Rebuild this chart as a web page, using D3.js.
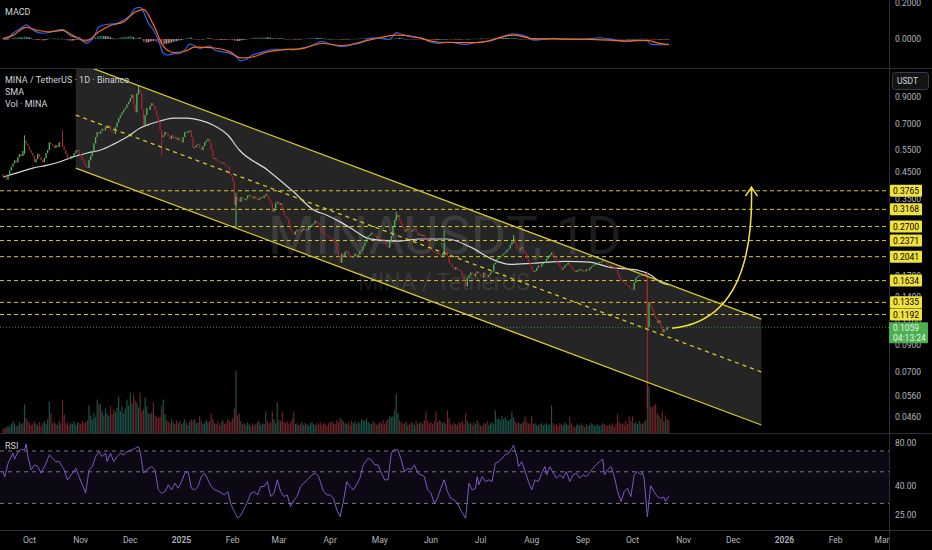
<!DOCTYPE html>
<html>
<head>
<meta charset="utf-8">
<script src="https://cdn.jsdelivr.net/npm/d3@7"></script>
<style>
html, body { margin: 0; padding: 0; background: #000; overflow: hidden; }
svg { display: block; }
text { font-family: Roboto, "Liberation Sans", sans-serif; }
</style>
</head>
<body>
<svg id="chart" width="932" height="550"></svg>
<script>
// ---- data (MINA/USDT daily, Binance) ----
var startDate = "2024-09-15"

var closes = [
  0.43,0.425,0.418,0.435,0.455,0.47,0.485,0.50,0.49,0.515,
  0.53,0.52,0.545,0.60,0.585,0.57,0.55,0.535,0.52,0.49,
  0.505,0.53,0.515,0.50,0.49,0.51,0.535,0.55,0.59,0.58,
  0.57,0.56,0.575,0.565,0.59,0.585,0.57,0.55,0.53,0.51,
  0.505,0.52,0.52,0.535,0.545,0.55,0.53,0.515,0.50,0.485,
  0.47,0.465,0.50,0.52,0.54,0.585,0.62,0.65,0.64,0.655,
  0.67,0.66,0.68,0.69,0.69,0.66,0.645,0.64,0.68,0.71,
  0.74,0.76,0.78,0.80,0.815,0.84,0.86,0.89,0.92,0.84,
  0.78,0.93,0.96,0.94,0.80,0.69,0.76,0.81,0.80,0.83,
  0.85,0.83,0.79,0.75,0.71,0.66,0.62,0.63,0.65,0.64,
  0.625,0.61,0.63,0.615,0.62,0.605,0.615,0.60,0.59,0.62,
  0.65,0.645,0.655,0.66,0.62,0.56,0.565,0.575,0.58,0.56,
  0.55,0.57,0.59,0.60,0.61,0.585,0.55,0.51,0.51,0.50,
  0.495,0.49,0.485,0.49,0.48,0.475,0.47,0.44,0.43,0.41,
  0.33,0.355,0.35,0.34,0.355,0.35,0.345,0.35,0.36,0.362,
  0.355,0.35,0.358,0.352,0.345,0.35,0.355,0.352,0.36,0.365,
  0.355,0.345,0.335,0.31,0.32,0.335,0.34,0.33,0.335,0.32,
  0.30,0.295,0.29,0.275,0.26,0.255,0.25,0.258,0.262,0.26,
  0.258,0.262,0.265,0.26,0.262,0.268,0.27,0.275,0.278,0.285,
  0.28,0.27,0.262,0.258,0.252,0.25,0.247,0.245,0.242,0.24,
  0.235,0.232,0.215,0.205,0.193,0.21,0.205,0.213,0.215,0.208,
  0.205,0.202,0.205,0.21,0.203,0.208,0.215,0.218,0.225,0.233,
  0.24,0.247,0.25,0.255,0.252,0.248,0.244,0.246,0.242,0.24,
  0.237,0.232,0.226,0.222,0.235,0.247,0.27,0.287,0.295,0.30,
  0.285,0.275,0.268,0.258,0.262,0.265,0.26,0.258,0.262,0.265,
  0.256,0.25,0.252,0.247,0.25,0.245,0.24,0.233,0.225,0.218,
  0.215,0.212,0.21,0.212,0.208,0.206,0.21,0.215,0.213,0.205,
  0.193,0.19,0.185,0.181,0.185,0.182,0.18,0.178,0.17,0.162,
  0.155,0.167,0.172,0.176,0.174,0.17,0.175,0.178,0.174,0.17,
  0.168,0.176,0.172,0.169,0.172,0.176,0.178,0.19,0.193,0.20,
  0.202,0.205,0.207,0.21,0.213,0.218,0.22,0.228,0.234,0.242,
  0.23,0.218,0.216,0.22,0.223,0.215,0.21,0.20,0.195,0.188,
  0.181,0.177,0.179,0.184,0.188,0.186,0.19,0.193,0.195,0.20,
  0.205,0.208,0.212,0.205,0.20,0.195,0.19,0.186,0.181,0.184,
  0.188,0.19,0.193,0.189,0.186,0.18,0.177,0.179,0.18,0.182,
  0.179,0.18,0.178,0.181,0.18,0.183,0.186,0.188,0.19,0.191,
  0.193,0.194,0.195,0.198,0.196,0.192,0.189,0.186,0.188,0.185,
  0.184,0.181,0.174,0.167,0.164,0.161,0.16,0.157,0.156,0.153,
  0.151,0.15,0.16,0.168,0.17,0.172,0.171,0.174,0.172,0.174,
  0.106,0.134,0.129,0.124,0.118,0.115,0.11,0.113,0.107,0.101,
  0.104,0.103,0.106,0.1059
]
var firstOpen = 0.44

var volumes = [
  4,5,6,7,6,9,12,10,7,8,11,9,10,29,15,12,10,8,9,12,
  9,8,11,7,10,12,9,14,32,20,10,11,9,8,12,10,34,19,9,11,
  8,10,9,12,8,11,10,9,12,10,11,13,28,18,14,20,16,34,30,29,
  22,18,25,20,17,27,19,24,21,26,37,22,27,20,25,34,28,41,30,39,
  33,31,26,41,22,24,36,27,20,19,21,31,18,16,15,17,27,34,19,13,
  12,10,14,11,9,13,10,12,9,11,14,10,8,12,14,13,14,10,11,17,
  12,9,10,13,11,12,20,14,10,9,12,8,11,13,9,10,14,12,11,15,
  25,63,18,20,12,9,10,8,11,9,7,10,8,9,11,12,8,10,9,22,
  12,10,11,22,14,10,31,13,12,22,11,10,12,9,11,14,22,9,10,8,
  9,11,8,10,9,7,10,11,9,8,10,9,11,8,10,9,7,10,11,12,
  10,9,13,11,15,14,12,10,9,11,8,13,10,12,9,11,10,14,13,12,
  15,11,10,9,12,10,8,9,11,10,13,9,12,14,17,16,17,23,40,20,
  13,11,9,10,12,8,9,11,10,8,12,9,10,11,9,13,22,12,10,11,
  9,12,22,11,13,12,10,11,9,23,15,9,8,10,9,8,11,10,12,9,
  20,12,9,10,8,11,9,13,10,8,7,10,9,12,8,10,11,9,23,14,
  15,13,17,14,16,13,12,14,22,16,12,10,11,9,10,12,17,11,10,9,
  17,9,10,8,7,9,10,8,9,10,8,9,28,10,8,9,7,10,9,8,
  11,9,8,17,10,7,6,8,9,7,10,8,6,9,7,8,10,9,7,8,
  9,7,8,10,9,8,7,9,8,10,6,9,19,11,9,10,8,12,9,17,
  12,17,10,11,9,12,10,9,11,13,55,48,27,26,28,29,20,18,15,22,
  12,18,14,13
]

// notable wicks: [day index, high, low]
var wicks = [
  [13, 0.63, 0.53], [36, 0.66, 0.565], [82, 1.0, 0.92], [96, 0.66, 0.52],
  [141, 0.37, 0.265], [238, 0.31, 0.285], [267, 0.26, 0.205], [309, 0.25, 0.232],
  [390, 0.178, 0.05]
]

// SMA line: [day index, value]
var smaPoints = [
  [0,0.428],[2,0.432],[10,0.448],[18,0.465],[27,0.478],[34,0.492],[42,0.515],[51,0.535],
  [59,0.55],[67,0.581],[75,0.62],[83,0.675],[89,0.70],[95,0.72],[103,0.74],[111,0.74],
  [119,0.726],[127,0.694],[136,0.632],[143,0.55],[160,0.457],[176,0.372],[188,0.315],
  [196,0.30],[204,0.282],[212,0.262],[220,0.243],[228,0.238],[240,0.236],[252,0.2405],
  [269,0.2405],[283,0.223],[297,0.198],[307,0.19],[321,0.192],[341,0.1955],[355,0.194],
  [367,0.185],[384,0.18],[392,0.172],[398,0.161],[403,0.157]
]

// MACD and signal lines: [day index, value]
var macdPoints = [
  [0,0.004],[2,-0.002],[6,0.032],[10,0.054],[14,0.078],[17,0.059],[20,0.041],[24,0.032],
  [28,0.037],[32,0.046],[36,0.054],[39,0.032],[42,0.013],[46,0.009],[50,-0.024],[55,0.013],
  [58,0.068],[61,0.078],[65,0.083],[69,0.087],[73,0.106],[77,0.133],[80,0.17],[83,0.176],
  [85,0.152],[88,0.087],[91,0.05],[94,-0.006],[97,-0.08],[99,-0.089],[103,-0.083],[107,-0.080],
  [110,-0.061],[113,-0.028],[116,-0.039],[119,-0.052],[122,-0.046],[125,-0.039],[128,-0.061],
  [132,-0.070],[137,-0.080],[141,-0.098],[144,-0.122],[147,-0.113],[151,-0.089],[156,-0.076],
  [160,-0.065],[164,-0.057],[168,-0.057],[172,-0.057],[176,-0.061],[180,-0.052],[186,-0.039],
  [193,-0.015],[198,-0.028],[205,-0.043],[212,-0.030],[217,-0.020],[222,0.004],[228,0.006],
  [234,-0.002],[238,0.035],[241,0.028],[246,0.013],[254,0.004],[258,-0.015],[264,-0.024],
  [270,-0.018],[280,-0.030],[287,-0.018],[295,-0.011],[301,0.009],[309,0.028],[317,0.013],
  [321,-0.006],[327,-0.002],[333,0.004],[341,-0.002],[351,-0.002],[361,0.007],[369,-0.002],
  [377,-0.015],[385,-0.006],[390,-0.011],[392,-0.028],[398,-0.032],[403,-0.032]
]
var signalPoints = [
  [0,0.002],[6,0.02],[14,0.065],[20,0.05],[28,0.04],[36,0.048],[42,0.02],[50,-0.012],
  [58,0.04],[65,0.075],[73,0.095],[80,0.15],[85,0.165],[91,0.08],[97,-0.04],[103,-0.075],
  [110,-0.068],[116,-0.045],[122,-0.046],[128,-0.05],[137,-0.07],[144,-0.105],[151,-0.1],
  [160,-0.072],[172,-0.058],[180,-0.055],[193,-0.025],[205,-0.036],[222,-0.005],[238,0.022],
  [246,0.018],[264,-0.018],[287,-0.02],[309,0.022],[321,0.002],[351,-0.001],[377,-0.01],
  [390,-0.008],[398,-0.026],[403,-0.03]
]

// RSI line: [day index, value]
var rsiPoints = [
  [0,50],[1,45.9],[3,57.4],[6,67.5],[7,61.3],[9,69.2],[11,72],[13,71.2],[14,78.3],[15,63.9],
  [17,51.6],[19,55.9],[21,54.4],[23,48.9],[26,57.4],[28,65.7],[30,62.3],[32,58.9],[34,58.9],
  [37,51.6],[39,43.9],[42,48.9],[44,53],[46,46.3],[50,35.4],[52,51.6],[54,54.4],[56,63.9],
  [58,69.2],[60,63.9],[62,67.5],[63,58.9],[65,67.5],[67,58.9],[69,63.9],[71,67.5],[73,65.7],
  [75,69.2],[78,71.2],[80,73.1],[82,75],[83,69.2],[85,48.9],[87,51.6],[90,54.4],[92,51.6],
  [94,37.3],[96,35.4],[98,36.3],[100,40.5],[102,37.3],[104,41.6],[106,38.3],[108,42.7],
  [110,48.9],[112,50.2],[114,38.3],[116,37.3],[118,39.4],[120,46.3],[122,48.9],[124,43.9],
  [126,39.4],[128,37.3],[131,36.3],[134,34.4],[136,36.3],[138,29.3],[140,26.3],[142,23.6],
  [144,24.9],[146,27.7],[148,30.9],[150,35.4],[152,36.3],[154,34.4],[156,39.4],[158,39.4],
  [160,42.7],[162,33.5],[164,35.4],[166,43.9],[168,36.3],[170,33.5],[172,34.4],[174,28.5],
  [176,31.7],[178,33.5],[180,39.4],[182,41.6],[184,43.9],[187,47.6],[189,48.9],[191,46.3],
  [194,36.3],[196,34.4],[198,34.4],[200,32.6],[202,27],[204,24.2],[206,30.9],[208,42.7],
  [210,39.4],[212,37.3],[214,40.5],[216,45.1],[218,55.9],[221,62.3],[223,60.6],[225,55.9],
  [227,55.9],[229,48.9],[231,43.9],[233,43.9],[235,67.5],[237,72],[239,71.2],[241,60.6],
  [243,50.2],[245,53],[247,51.6],[249,55.9],[251,48.9],[253,47.6],[255,46.3],[257,37.3],
  [259,35.4],[261,30.1],[263,32.6],[265,38.3],[267,43.9],[269,36.3],[271,32.6],[273,31.7],
  [275,30.1],[277,27],[280,23.6],[282,41.6],[284,37.3],[286,38.3],[287,46.3],[288,40.5],
  [290,46.3],[292,42.7],[294,43.9],[296,42.7],[298,57.4],[300,58.9],[302,62.3],[304,65.7],
  [306,67.5],[308,73.1],[309,77.1],[311,63.9],[312,54.4],[314,58.9],[316,50.2],[318,42.7],
  [320,37.3],[322,43.9],[324,42.7],[326,48.9],[328,54.4],[329,47.6],[331,54.4],[333,48.9],
  [335,45.1],[337,47.6],[339,45.1],[341,50.2],[343,42.7],[345,47.6],[347,48.9],[349,45.1],
  [351,47.6],[353,46.3],[355,48.9],[357,53],[359,55.9],[361,58.9],[363,61.3],[364,47.6],
  [366,51.6],[368,54.4],[370,46.3],[372,36.3],[374,30.9],[376,36.3],[378,38.3],[380,33.5],
  [382,47.6],[384,50.2],[386,47.6],[387,49.5],[388,45.1],[390,24.2],[392,40],[394,36.3],
  [396,33.5],[398,32.6],[400,33.2],[401,30.9],[403,33.9]
]

var levels = [0.3765, 0.3168, 0.2700, 0.2371, 0.2041, 0.1634, 0.1335, 0.1192]
var lastPrice = 0.1059
var countdown = "04:13:24"

var channelDates = ["2024-10-29", "2025-12-18"]
var channelUpper = [1.246, 0.1143]
var channelMiddle = [0.761, 0.0699]
var channelLower = [0.465, 0.0427]

var arrowDates = ["2025-10-25", "2025-12-14", "2025-12-12"]
var arrowPrices = [0.105, 0.1133, 0.386]

var priceTicks = [0.9, 0.7, 0.55, 0.45, 0.35, 0.17, 0.14, 0.11, 0.09, 0.07, 0.056, 0.046]
var rsiTicks = [80, 40, 25]
var rsiBands = [70, 50, 30]
var macdTicks = [0.2, 0]

// ---- layout ----
var axisX = 889
var macdTop = 0, macdBottom = 68
var priceTop = 68, priceBottom = 433
var rsiTop = 434, rsiBottom = 530

var upColor = "#4cbb5a", downColor = "#ab2230"
var upVol = "#1d5248", downVol = "#6e2427"
var yellow = "#d6c630"
var axisText = "#b2b5be"

var svg = d3.select("#chart")
svg.append("rect").attr("width", 932).attr("height", 550).attr("fill", "#000")

var parse = d3.utcParse("%Y-%m-%d")
var t0 = parse(startDate)
var dayDate = i => d3.utcDay.offset(t0, i)

var x = d3.scaleUtc()
  .domain([Date.UTC(2024, 9, 1), Date.UTC(2025, 9, 1)])
  .range([29.5, 632.5])
var yPrice = d3.scaleLog().domain([0.9, 0.046]).range([97, 417])
var yVol = d3.scaleLinear().domain([0, d3.max(volumes)]).range([433, 371])
var yRsi = d3.scaleLog().domain([80, 25]).range([442.7, 514.7])
var yMacd = d3.scaleLinear().domain([0, 0.2]).range([39, 3])

var candles = closes.map((c, i) => {
  var o = i == 0 ? firstOpen : closes[i - 1]
  return { i: i, date: dayDate(i), open: o, close: c, vol: volumes[i], up: c >= o }
})

// clip paths
var defs = svg.append("defs")
function clip(id, y0, y1) {
  defs.append("clipPath").attr("id", id).append("rect")
    .attr("x", 0).attr("y", y0).attr("width", axisX).attr("height", y1 - y0)
}
clip("clipMacd", macdTop, macdBottom)
clip("clipPrice", priceTop, priceBottom)
clip("clipRsi", rsiTop, rsiBottom)

// ---------- MACD pane ----------
// histogram from the price series (12/26/9)
function ema(arr, n) {
  var k = 2 / (n + 1), prev = arr[0]
  return arr.map((v, i) => { prev = i == 0 ? v : v * k + prev * (1 - k); return prev })
}
var e12 = ema(closes, 12), e26 = ema(closes, 26)
var macdCalc = e12.map((v, i) => v - e26[i])
var sigCalc = ema(macdCalc, 9)
var hist = macdCalc.map((v, i) => v - sigCalc[i])

var gm = svg.append("g").attr("clip-path", "url(#clipMacd)")
gm.selectAll("rect")
  .data(candles)
  .enter()
  .append("rect")
  .attr("x", d => x(d.date) - 0.55)
  .attr("width", 1.1)
  .attr("y", d => Math.min(yMacd(0), yMacd(hist[d.i])))
  .attr("height", d => Math.max(0.6, Math.abs(yMacd(hist[d.i]) - yMacd(0))))
  .attr("fill", d => {
    var h = hist[d.i], p = d.i > 0 ? hist[d.i - 1] : h
    if (h >= 0) return h > p ? "#26a69a" : "#b2dfdb"
    return h < p ? "#ff5252" : "#ffcdd2"
  })
  .attr("opacity", 0.75)

var ptLine = d3.line().curve(d3.curveMonotoneX).x(d => x(dayDate(d[0]))).y(d => yMacd(d[1]))
gm.append("path").attr("d", ptLine(macdPoints)).attr("fill", "none").attr("stroke", "#2962ff").attr("stroke-width", 1.2)
gm.append("path").attr("d", ptLine(signalPoints)).attr("fill", "none").attr("stroke", "#ff6d00").attr("stroke-width", 1.2)

// ---------- price pane ----------
var gp = svg.append("g").attr("clip-path", "url(#clipPrice)")

var cd = channelDates.map(parse)
var chanPoly = [
  [x(cd[0]), yPrice(channelUpper[0])], [x(cd[1]), yPrice(channelUpper[1])],
  [x(cd[1]), yPrice(channelLower[1])], [x(cd[0]), yPrice(channelLower[0])]
]
gp.append("path")
  .attr("d", "M" + chanPoly.join("L") + "Z")
  .attr("fill", "#252525")

// watermark
gp.append("text")
  .text("MINAUSDT, 1D")
  .attr("x", 268).attr("y", 254)
  .attr("font-size", 54)
  .attr("fill", "rgba(255,255,255,0.11)")
gp.append("text")
  .text("MINA / TetherUS")
  .attr("x", 358).attr("y", 290)
  .attr("font-size", 23)
  .attr("fill", "rgba(255,255,255,0.11)")

// volume
gp.selectAll("rect.vol")
  .data(candles)
  .enter()
  .append("rect")
  .attr("class", "vol")
  .attr("x", d => x(d.date) - 0.6)
  .attr("width", 1.2)
  .attr("y", d => yVol(d.vol))
  .attr("height", d => yVol(0) - yVol(d.vol))
  .attr("fill", d => d.up ? upVol : downVol)

// horizontal levels
gp.selectAll("line.level")
  .data(levels)
  .enter()
  .append("line")
  .attr("x1", 0).attr("x2", axisX)
  .attr("y1", d => yPrice(d)).attr("y2", d => yPrice(d))
  .attr("stroke", yellow)
  .attr("stroke-width", 1)
  .attr("stroke-dasharray", "4,3")

// last price line
gp.append("line")
  .attr("x1", 0).attr("x2", axisX)
  .attr("y1", yPrice(lastPrice)).attr("y2", yPrice(lastPrice))
  .attr("stroke", "#3d8c40")
  .attr("stroke-width", 1)
  .attr("stroke-dasharray", "1,2")

// SMA
var smaLine = d3.line().curve(d3.curveMonotoneX)
  .x(d => x(dayDate(d[0]))).y(d => yPrice(d[1]))
gp.append("path")
  .attr("d", smaLine(smaPoints))
  .attr("fill", "none")
  .attr("stroke", "#d7d7d7")
  .attr("stroke-width", 1.2)

// wicks
gp.selectAll("line.wick")
  .data(wicks)
  .enter()
  .append("line")
  .attr("x1", d => x(dayDate(d[0]))).attr("x2", d => x(dayDate(d[0])))
  .attr("y1", d => yPrice(d[1])).attr("y2", d => yPrice(d[2]))
  .attr("stroke", d => candles[d[0]].up ? upColor : downColor)
  .attr("stroke-width", 1)

// candles
gp.selectAll("rect.candle")
  .data(candles)
  .enter()
  .append("rect")
  .attr("class", "candle")
  .attr("x", d => x(d.date) - 0.65)
  .attr("width", 1.3)
  .attr("y", d => yPrice(Math.max(d.open, d.close)))
  .attr("height", d => Math.max(1, Math.abs(yPrice(d.open) - yPrice(d.close))))
  .attr("fill", d => d.up ? upColor : downColor)

// channel lines
function chanLine(vals, dash) {
  gp.append("line")
    .attr("x1", x(cd[0])).attr("y1", yPrice(vals[0]))
    .attr("x2", x(cd[1])).attr("y2", yPrice(vals[1]))
    .attr("stroke", yellow)
    .attr("stroke-width", 1.3)
    .attr("stroke-dasharray", dash)
}
chanLine(channelUpper, null)
chanLine(channelLower, null)
chanLine(channelMiddle, "4,4")

// arrow
var ap = arrowDates.map((d, i) => [x(parse(d)), yPrice(arrowPrices[i])])
var path = d3.path()
path.moveTo(ap[0][0], ap[0][1])
path.quadraticCurveTo(ap[1][0], ap[1][1], ap[2][0], ap[2][1])
gp.append("path").attr("d", path.toString())
  .attr("fill", "none").attr("stroke", "#f2e33a").attr("stroke-width", 1.5)
gp.append("path")
  .attr("d", "M" + (ap[2][0] - 6) + "," + (ap[2][1] + 8) + "L" + ap[2][0] + "," + (ap[2][1] - 1) + "L" + (ap[2][0] + 6) + "," + (ap[2][1] + 8))
  .attr("fill", "none").attr("stroke", "#f2e33a").attr("stroke-width", 1.5)

// ---------- RSI pane ----------
var gr = svg.append("g").attr("clip-path", "url(#clipRsi)")
gr.append("rect")
  .attr("x", 0).attr("width", axisX)
  .attr("y", yRsi(rsiBands[0]))
  .attr("height", yRsi(rsiBands[2]) - yRsi(rsiBands[0]))
  .attr("fill", "rgba(126,87,194,0.1)")
gr.selectAll("line.band")
  .data(rsiBands)
  .enter()
  .append("line")
  .attr("x1", 0).attr("x2", axisX)
  .attr("y1", d => yRsi(d)).attr("y2", d => yRsi(d))
  .attr("stroke", "#787b86")
  .attr("stroke-width", 1)
  .attr("stroke-dasharray", "4,4")
var rsiLine = d3.line().x(d => x(dayDate(d[0]))).y(d => yRsi(d[1]))
gr.append("path")
  .attr("d", rsiLine(rsiPoints))
  .attr("fill", "none")
  .attr("stroke", "#7e57c2")
  .attr("stroke-width", 1)

// ---------- separators ----------
var sep = "#2a2e39"
svg.append("line").attr("x1", 0).attr("x2", 932).attr("y1", 68.5).attr("y2", 68.5).attr("stroke", sep)
svg.append("line").attr("x1", 0).attr("x2", 932).attr("y1", 433.5).attr("y2", 433.5).attr("stroke", sep)
svg.append("line").attr("x1", 0).attr("x2", 932).attr("y1", 530.5).attr("y2", 530.5).attr("stroke", sep)
svg.append("line").attr("x1", axisX + 0.5).attr("x2", axisX + 0.5).attr("y1", 0).attr("y2", 550).attr("stroke", sep)

// ---------- right axes ----------
var fmt4 = d3.format(".4f")
svg.selectAll("text.ptick")
  .data(priceTicks)
  .enter()
  .append("text")
  .text(d => fmt4(d))
  .attr("x", 895)
  .attr("y", d => yPrice(d))
  .attr("dy", "0.35em")
  .attr("font-size", 8.5)
  .attr("fill", axisText)

svg.selectAll("text.mtick")
  .data(macdTicks)
  .enter()
  .append("text")
  .text(d => fmt4(d))
  .attr("x", 895)
  .attr("y", d => yMacd(d))
  .attr("dy", "0.35em")
  .attr("font-size", 8.5)
  .attr("fill", axisText)

svg.selectAll("text.rtick")
  .data(rsiTicks)
  .enter()
  .append("text")
  .text(d => d3.format(".2f")(d))
  .attr("x", 895)
  .attr("y", d => yRsi(d))
  .attr("dy", "0.35em")
  .attr("font-size", 8.5)
  .attr("fill", axisText)

// level labels
var lv = svg.selectAll("g.lvl")
  .data(levels)
  .enter()
  .append("g")
lv.append("rect")
  .attr("x", 890).attr("width", 32)
  .attr("y", d => yPrice(d) - 6).attr("height", 12)
  .attr("rx", 1)
  .attr("fill", "#f0e23c")
lv.append("text")
  .text(d => fmt4(d))
  .attr("x", 893)
  .attr("y", d => yPrice(d))
  .attr("dy", "0.35em")
  .attr("font-size", 8.5)
  .attr("fill", "#000")

// last price label
var ly = yPrice(lastPrice)
svg.append("rect")
  .attr("x", 889).attr("width", 39)
  .attr("y", ly - 5).attr("height", 21)
  .attr("rx", 1)
  .attr("fill", "#4caf50")
svg.append("text").text(fmt4(lastPrice))
  .attr("x", 893).attr("y", ly + 1).attr("dy", "0.35em")
  .attr("font-size", 8.5).attr("fill", "#e6f4e6")
svg.append("text").text(countdown)
  .attr("x", 893).attr("y", ly + 10.5).attr("dy", "0.35em")
  .attr("font-size", 8.5).attr("fill", "#e6f4e6")

// USDT button
svg.append("rect")
  .attr("x", 892.5).attr("y", 72.5).attr("width", 36).attr("height", 17)
  .attr("rx", 3)
  .attr("fill", "#131313").attr("stroke", "#3a3d45")
svg.append("text").text("USDT")
  .attr("x", 897).attr("y", 81).attr("dy", "0.35em")
  .attr("font-size", 8.5).attr("fill", "#d1d4dc")

// ---------- time axis ----------
var months = d3.utcMonth.range(new Date(Date.UTC(2024, 9, 1)), new Date(Date.UTC(2026, 2, 2)))
svg.selectAll("text.month")
  .data(months)
  .enter()
  .append("text")
  .text(d => d.getUTCMonth() == 0 ? d.getUTCFullYear() : d3.utcFormat("%b")(d))
  .attr("x", d => x(d))
  .attr("y", 540)
  .attr("dy", "0.35em")
  .attr("text-anchor", "middle")
  .attr("font-size", 8.5)
  .attr("font-weight", d => d.getUTCMonth() == 0 ? 600 : 400)
  .attr("fill", axisText)

// ---------- pane legends ----------
var legend = [["MACD", 15], ["MINA / TetherUS · 1D · Binance", 83], ["SMA", 95], ["Vol · MINA", 107], ["RSI", 449]]
svg.selectAll("text.legend")
  .data(legend)
  .enter()
  .append("text")
  .text(d => d[0])
  .attr("x", 5)
  .attr("y", d => d[1])
  .attr("font-size", 9)
  .attr("fill", "#d1d4dc")
</script>
</body>
</html>
